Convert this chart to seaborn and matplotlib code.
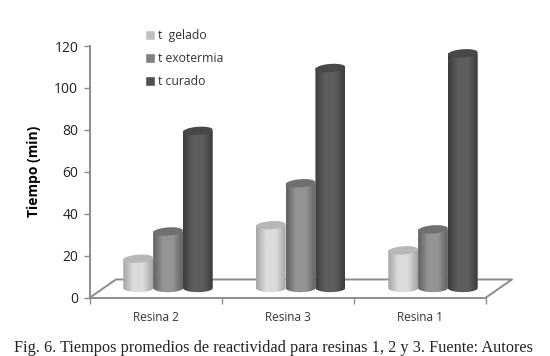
import numpy as np
import pandas as pd
import seaborn as sns
import matplotlib
matplotlib.use('Agg')
import matplotlib.pyplot as plt
from matplotlib.patches import Polygon
from matplotlib.path import Path

RESINAS = ['Resina 2', 'Resina 3', 'Resina 1']
SERIES = ['t  gelado', 't exotermia', 't curado']
T_GELADO = [14, 30, 18]
T_EXOTERMIA = [27, 50, 28]
T_CURADO = [75, 105, 112]
Y_TICKS = [0, 20, 40, 60, 80, 100, 120]
CAPTION = 'Fig. 6. Tiempos promedios de reactividad para resinas 1, 2 y 3. Fuente: Autores'

COLORS = ['#c0c0c0', '#808080', '#505050']
# edge, centre and top colours of each cylinder
SHADES = [('#a4a4a4', '#dcdcdc', '#b8b8b8'),
          ('#626262', '#949494', '#707070'),
          ('#3c3c3c', '#5e5e5e', '#484848')]
GRID = '#8c8c8c'
W, H = 550, 356
BASE = 4.5  # bars stand on the middle of the floor
DEPTH = 8.6
X_LEFT, X_RIGHT = -0.589, 2.4
X_SHIFT = 0.196
TILT = 1.0  # rise of the cylinder ends across one bar, in data units

sns.set_style('white')
plt.rcParams['font.family'] = ['Open Sans', 'DejaVu Sans']


def make_df():
    rows = []
    for name, values in zip(SERIES, [T_GELADO, T_EXOTERMIA, T_CURADO]):
        for resina, value in zip(RESINAS, values):
            rows.append({'resina': resina, 'serie': name, 'tiempo': value})
    return pd.DataFrame(rows)


def cylinders(ax):
    ell_h = 3.9
    for container, shade in zip(ax.containers, SHADES):
        cmap = matplotlib.colors.LinearSegmentedColormap.from_list(
            'cyl', [shade[0], shade[1], shade[1], shade[0]])
        for bar in container:
            x0, w = bar.get_x(), bar.get_width()
            top = bar.get_height()
            bar.set_y(BASE)
            bar.set_visible(False)
            t = np.linspace(np.pi, 2 * np.pi, 30)
            xs = x0 + w / 2 + w / 2 * np.cos(t)
            ys = BASE + ell_h / 2 * np.sin(t)
            verts = [(x0, BASE + top)] + list(zip(xs, ys)) + [(x0 + w, BASE + top), (x0, BASE + top)]
            im = ax.imshow(np.linspace(0, 1, 64)[None, :], extent=(x0, x0 + w, BASE - ell_h, BASE + top),
                           aspect='auto', cmap=cmap, zorder=3, interpolation='bilinear')
            im.set_clip_path(Path(verts), transform=ax.transData)
            t = np.linspace(0, 2 * np.pi, 60)
            ex = x0 + w / 2 + w / 2 * np.cos(t)
            ey = BASE + top + ell_h / 2 * np.sin(t) + TILT * np.cos(t) / 2
            ax.add_patch(Polygon(np.column_stack([ex, ey]), closed=True, color=shade[2], lw=0, zorder=4))


def main():
    fig = plt.figure(figsize=(W / 100, H / 100), dpi=100)
    ax = fig.add_axes([90 / W, 1 - 297.5 / H, 396 / W, 251.5 / H])

    sns.barplot(data=make_df(), x='resina', y='tiempo', hue='serie', order=RESINAS, hue_order=SERIES,
                palette=COLORS, width=0.675, gap=0, errorbar=None, ax=ax)
    handles, labels = ax.get_legend_handles_labels()
    ax.get_legend().remove()
    cylinders(ax)

    ax.set_xlim(X_LEFT, X_RIGHT)
    ax.set_ylim(0, 120)

    # floor of the 3D box
    ax.plot([X_LEFT, X_LEFT + X_SHIFT, X_RIGHT + X_SHIFT, X_RIGHT],
            [0, DEPTH, DEPTH, 0], color=GRID, lw=1.4, clip_on=False, zorder=2)

    sns.despine(ax=ax, top=True, right=True)
    for side in ['left', 'bottom']:
        ax.spines[side].set_color(GRID)
        ax.spines[side].set_linewidth(1.4)
    ax.set_yticks(Y_TICKS)
    ax.tick_params(axis='y', left=True, length=4, width=1, color=GRID, labelsize=10, pad=4.5, labelcolor='#222222')
    edges = np.linspace(X_LEFT, X_RIGHT, 4)
    ax.set_xticks(edges, minor=True)
    ax.set_xticks((edges[:-1] + edges[1:]) / 2, RESINAS)
    ax.tick_params(axis='x', which='minor', bottom=True, length=4, width=1, color=GRID)
    ax.tick_params(axis='x', which='major', bottom=False, labelsize=8.5, pad=6.3, labelcolor='#333333')
    ax.set_xlabel('')
    ax.set_ylabel('Tiempo (min)', fontsize=10, fontweight='bold', labelpad=9.5, color='black')

    ax.legend(handles, labels, frameon=False, fontsize=8.8, loc='upper left',
              bbox_to_anchor=(145 / W, 1 - 29 / H), bbox_transform=fig.transFigure,
              handlelength=0.85, handleheight=0.85, handletextpad=0.2, labelspacing=0.82,
              labelcolor='#333333', borderpad=0, borderaxespad=0)

    fig.text(274 / W, 1 - 348 / H, CAPTION, ha='center', va='center', fontsize=11.7,
             family=['Liberation Serif', 'DejaVu Serif'], color='#222222')

    fig.savefig('out.png', dpi=100)
    plt.close(fig)


if __name__ == '__main__':
    main()
